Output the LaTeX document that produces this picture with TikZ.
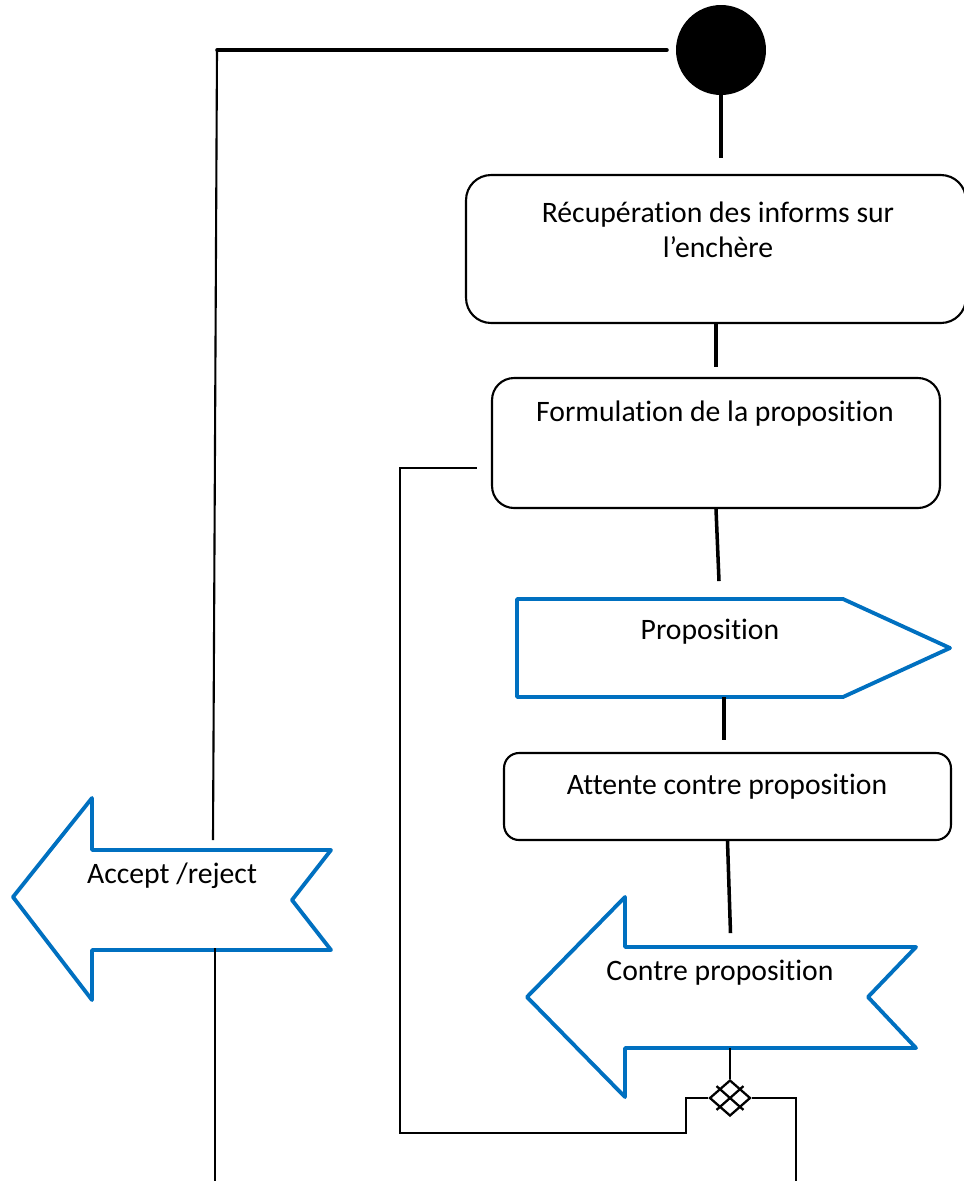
\documentclass[tikz,border=0pt]{standalone}
\usepackage{fontspec}
\setmainfont{Carlito}[Ligatures=NoCommon]
\usetikzlibrary{positioning,calc,shapes.geometric}
\definecolor{msblue}{RGB}{0,112,192}
\begin{document}
\begin{tikzpicture}[
		x=0.02cm, y=-0.02cm,
		start/.style={circle, fill=black, minimum size=1.8cm, inner sep=0pt},
		activity/.style={rectangle, draw=black, line width=1.2pt, inner sep=0pt},
		signal/.style={draw=msblue, line width=2.2pt, line join=round},
		merge/.style={diamond, draw=black, line width=1.3pt, minimum width=0.82cm, minimum height=0.72cm, inner sep=0pt},
		label/.style={font=\fontsize{16.9}{20}\selectfont, align=center},
		flow/.style={draw=black, line width=2pt},
		loop/.style={draw=black, line width=1.2pt}
		]
		\useasboundingbox (0,0) rectangle (964,1181);
		% Initial Node
		\node[start] (init) at (721,50) {};
		% Activities
		\node[activity, rounded corners=0.5cm, minimum width=10cm, minimum height=2.96cm] (recup) at (716,249) {};
		\node[label] at (718,230) {Récupération des informs sur\\l’enchère};
		\node[activity, rounded corners=0.44cm, minimum width=8.96cm, minimum height=2.6cm] (formul) at (716,443) {};
		\node[label] at (715,414) {Formulation de la proposition};
		\node[activity, rounded corners=0.3cm, minimum width=8.94cm, minimum height=1.74cm] (attente) at (727.5,796.5) {};
		\node[label] at (727,787) {Attente contre proposition};
		% Send signal
		\draw[signal] (517,599) -- (843,599) -- (950,648) -- (843,697) -- (517,697) -- cycle;
		\coordinate (prop-s) at (724,697);
		\node[label] (prop) at (710,632) {Proposition};
		% Receive signals
		\draw[signal] (527,997) -- (625,897) -- (625,947) -- (916,947) -- (868,997) -- (916,1048) -- (625,1048) -- (625,1097) -- cycle;
		\coordinate (contre-s) at (730,1048);
		\node[label] (contre) at (720,973) {Contre proposition};
		\draw[signal] (13,897) -- (92,798) -- (92,850) -- (331,850) -- (292,900) -- (331,950) -- (92,950) -- (92,1000) -- cycle;
		\coordinate (accept-n) at (213,840);
		\coordinate (accept-s) at (215,948);
		\node[label] (accept) at (172,876) {Accept /reject};
		% Decision Node
		\node[merge] (choice) at (730,1098) {};
		\draw[line width=1.3pt, shorten <=-2pt, shorten >=-2pt] ($(choice.west)!0.5!(choice.south)$) -- ($(choice.north)!0.5!(choice.east)$);
		\draw[line width=1.3pt, shorten <=-2pt, shorten >=-2pt] ($(choice.west)!0.5!(choice.north)$) -- ($(choice.south)!0.5!(choice.east)$);
		% Free ends
		\coordinate (init-w) at (667,50);
		\coordinate (formul-w) at (477,468);
		\coordinate (bottom-l) at (215,1181);
		\coordinate (bottom-r) at (796,1181);
		% Flows
		\draw[flow] (init.south) -- ++(0,63);
		\draw[flow] (recup.south) -- ++(0,43);
		\draw[flow] (formul.south) -- ++(3,72);
		\draw[flow] (prop-s) -- ++(0,43);
		\draw[flow] (attente.south) -- ++(3,92);
		\draw[loop] (contre-s) -- (choice.north);
		\draw[flow, line cap=round] (init-w) -- (217,50);
		\draw[loop] (217,50) -- (accept-n);
		\draw[loop] (accept-s) -- (bottom-l);
		\draw[loop] (choice.west) -- (686,1098) -- (686,1133) -- (400,1133) -- (400,468) -- (formul-w);
		\draw[loop] (choice.east) -- (796,1098) -- (bottom-r);
\end{tikzpicture}
\end{document}
